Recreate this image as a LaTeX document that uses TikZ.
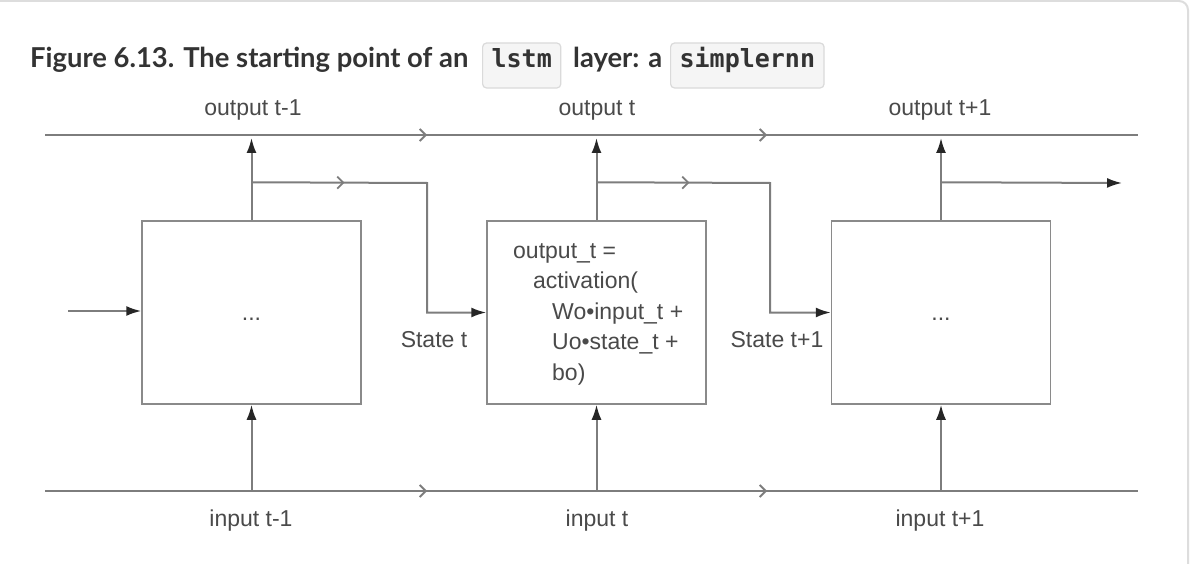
\documentclass[tikz,border=0pt]{standalone}
\usepackage{fontspec}
\setmainfont{Liberation Sans}
\newfontfamily\titlefont{Lato}
\newfontfamily\codefont{DejaVu Sans Mono}
\usetikzlibrary{arrows.meta,decorations.markings}
\definecolor{linegray}{HTML}{7D7D7D}
\definecolor{boxgray}{HTML}{8A8A8A}
\definecolor{labelc}{HTML}{4A4A4A}
\definecolor{titlec}{HTML}{333333}
\definecolor{codefill}{HTML}{F5F5F5}
\definecolor{codeline}{HTML}{DADADA}
\definecolor{framec}{HTML}{DDDDDD}
\tikzset{
  head/.tip={Latex[length=15pt,width=10pt,color=black!85]},
  chev/.tip={Straight Barb[length=6pt,width=12pt,line width=1.8pt]},
  wire/.style={draw=linegray, line width=2pt},
  cell/.style={draw=boxgray, line width=1.5pt, minimum width=219pt, minimum height=183pt, inner sep=0pt},
  lab/.style={font=\fontsize{23}{28}\selectfont, text=labelc, inner sep=0pt},
  titletext/.style={anchor=base west, inner sep=0pt, text=titlec,
    font=\titlefont\bfseries\fontsize{27.4}{33}\selectfont},
  code/.style={draw=codeline, fill=codefill, line width=1.2pt, rounded corners=4pt,
    font=\codefont\bfseries\fontsize{25}{30}\selectfont, text=titlec,
    anchor=base west, text height=15pt, text depth=10pt, inner xsep=9pt, inner ysep=10pt},
  chevs/.style 2 args={postaction={decorate, decoration={markings,
    mark=at position #1 with {\arrow{chev}}, mark=at position #2 with {\arrow{chev}}}}},
  chev1/.style={postaction={decorate, decoration={markings,
    mark=at position #1 with {\arrow{chev}}}}}
}
\begin{document}
\begin{tikzpicture}[x=1pt,y=-1pt]
\useasboundingbox (0,0) rectangle (1190,564);
\fill[white] (0,0) rectangle (1190,564);
\draw[framec, line width=2pt, rounded corners=9pt] (-30,1) rectangle (1188,620);

% title
\node[titletext] (title) at (30,68) {Figure 6.13. The starting point of an};
\node[code] (c1) at (482,68) {lstm};
\node[titletext] (title2) at (573,68) {layer: a};
\node[code] (c2) at (670,68) {simplernn};

% rails
\coordinate (TL) at (45,135); \coordinate (TR) at (1138,135);
\coordinate (BL) at (45,491); \coordinate (BR) at (1138,491);
\draw[wire, chevs={382pt}{722pt}] (TL) -- (TR);
\draw[wire, chevs={382pt}{722pt}] (BL) -- (BR);

% cells
\node[cell] (b1) at (251.5,312.5) {};
\node[cell] (b2) at (596.5,312.5) {};
\node[cell] (b3) at (941,312.5) {};

\node[lab] (d1) at ([yshift=-7pt]b1.center) {...};
\node[lab] (d3) at ([yshift=-7pt]b3.center) {...};

\node[lab, anchor=west, align=left, font=\fontsize{23}{30.5}\selectfont] (eq) at (513,314)
  {output\_t =\\
   \hspace*{20pt}activation(\\
   \hspace*{39pt}Wo•input\_t +\\
   \hspace*{39pt}Uo•state\_t +\\
   \hspace*{39pt}bo)};

% labels
\node[lab] (o1) at (253,110) {output t-1};
\node[lab] (o2) at (597,110) {output t};
\node[lab] (o3) at (940,110) {output t+1};
\node[lab] (i1) at (251,521) {input t-1};
\node[lab] (i2) at (597,521) {input t};
\node[lab] (i3) at (940,521) {input t+1};
\node[lab] (s1) at (434,340) {State t};
\node[lab] (s2) at (777,340) {State t+1};

% vertical arrows
\foreach \b in {b1,b2,b3}{
  \draw[wire, -{head}] (\b.north) -- ([yshift=-3pt]\b.north |- TL);
  \draw[wire, -{head}] (\b.south |- BL) -- (\b.south);
}

% state branches
\coordinate (j1) at ([yshift=38pt]b1.north);
\coordinate (j2) at ([yshift=38pt]b2.north);
\coordinate (j3) at ([yshift=38pt]b3.north);
\coordinate (k1) at (427,183);
\coordinate (k2) at (770,183);
\coordinate (e3) at (1122,183);
\draw[wire, -{head}, chev1=93pt] (j1) -- (k1) -- (k1 |- b2.west) -- (b2.west);
\draw[wire, -{head}, chev1=93pt] (j2) -- (k2) -- (k2 |- b3.west) -- (b3.west);
\draw[wire, -{head}] (j3) -- (e3);

% left input
\coordinate (in0) at (68,311);
\draw[wire, -{head}] (in0) -- (in0 -| b1.west);
\end{tikzpicture}
\end{document}
